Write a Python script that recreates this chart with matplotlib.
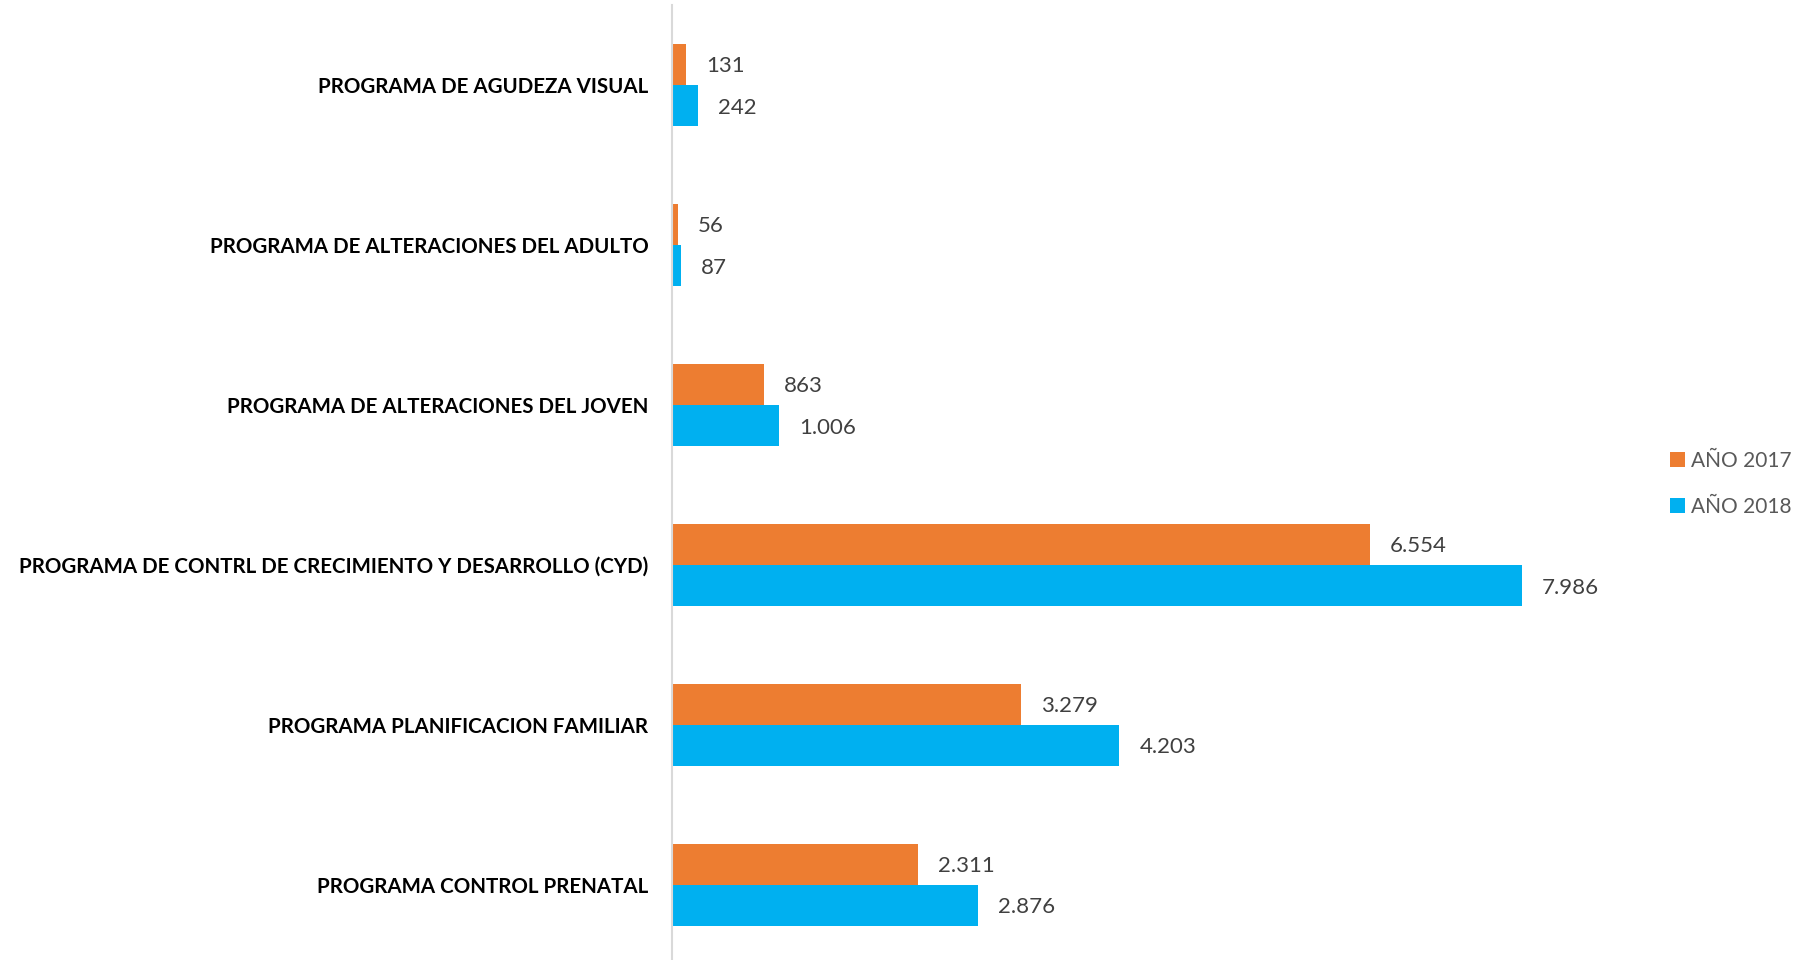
import matplotlib.pyplot as plt
import numpy as np

# Datos del gráfico
programas = [
    'PROGRAMA DE AGUDEZA VISUAL',
    'PROGRAMA DE ALTERACIONES DEL ADULTO',
    'PROGRAMA DE ALTERACIONES DEL JOVEN',
    'PROGRAMA DE CONTRL DE CRECIMIENTO Y DESARROLLO (CYD)',
    'PROGRAMA PLANIFICACION FAMILIAR',
    'PROGRAMA CONTROL PRENATAL',
]
anio_2017 = [131, 56, 863, 6554, 3279, 2311]
anio_2018 = [242, 87, 1006, 7986, 4203, 2876]
series_labels = ['AÑO 2017', 'AÑO 2018']
colors = ['#ED7D31', '#00B0F0']

plt.rcParams['font.family'] = ['Lato', 'DejaVu Sans']

fig = plt.figure(figsize=(17.99, 9.60), dpi=100)
ax = fig.add_axes([672 / 1799, 0, (1630 - 672) / 1799, 955 / 960])

y = np.arange(len(programas))
h = 0.258

bars17 = ax.barh(y - h / 2, anio_2017, height=h, color=colors[0], label=series_labels[0])
bars18 = ax.barh(y + h / 2, anio_2018, height=h, color=colors[1], label=series_labels[1])


def fmt(v):
    return f'{v:,}'.replace(',', '.')


for bars, vals in [(bars17, anio_2017), (bars18, anio_2018)]:
    for bar, v in zip(bars, vals):
        ax.annotate(fmt(v), (bar.get_width(), bar.get_y() + bar.get_height() / 2),
                    xytext=(20, -2), textcoords='offset pixels',
                    ha='left', va='center', fontsize=16, color='#404040')

ax.set_xlim(0, 9000)
ax.set_ylim(5.47, -0.5)
ax.set_yticks(y)
ax.set_yticklabels(programas, fontsize=14.8, fontweight='bold', color='black')
ax.tick_params(axis='y', length=0, pad=17)
ax.set_xticks([])

for s in ['top', 'right', 'bottom']:
    ax.spines[s].set_visible(False)
ax.spines['left'].set_color('#D9D9D9')
ax.spines['left'].set_linewidth(1.5)

leg = fig.legend(loc='center left', bbox_to_anchor=(1662 / 1799, 1 - 484 / 960),
                 frameon=False, fontsize=15, handlelength=0.7, handleheight=0.7,
                 handletextpad=0.3, labelspacing=1.25, borderaxespad=0)
for t in leg.get_texts():
    t.set_color('#595959')

plt.savefig('out.png', dpi=100)
